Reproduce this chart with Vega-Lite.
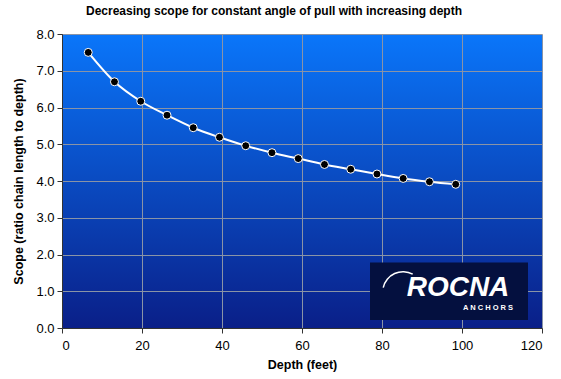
{
  "$schema": "https://vega.github.io/schema/vega-lite/v6.json",
  "width": 480,
  "height": 294,
  "autosize": {"type": "none"},
  "padding": {"left": 62, "top": 34, "right": 19, "bottom": 51},
  "background": "white",
  "title": {
    "text": "Decreasing scope for constant angle of pull with increasing depth",
    "font": "Liberation Sans",
    "fontSize": 12,
    "fontWeight": "bold",
    "color": "black",
    "anchor": "middle",
    "offset": 10,
    "dx": -28
  },
  "config": {
    "view": {
      "fill": {"gradient": "linear", "x1": 0, "y1": 0, "x2": 0, "y2": 1, "stops": [{"offset": 0, "color": "#0a76fa"}, {"offset": 1, "color": "#0a1f88"}]},
      "stroke": null
    },
    "axis": {
      "labelFont": "Liberation Sans",
      "labelFontSize": 13,
      "labelColor": "black",
      "titleFont": "Liberation Sans",
      "titleFontSize": 12.5,
      "titleFontWeight": "bold",
      "titleColor": "black",
      "gridColor": "#8a94a6",
      "gridWidth": 1,
      "gridOpacity": 1,
      "domainColor": "#333333",
      "tickColor": "#333333",
      "tickSize": 5
    }
  },
  "layer": [
    {
      "data": {
        "values": [
          {"depth": 6.56, "scope": 7.50},
          {"depth": 13.12, "scope": 6.70},
          {"depth": 19.69, "scope": 6.17},
          {"depth": 26.25, "scope": 5.79},
          {"depth": 32.81, "scope": 5.45},
          {"depth": 39.37, "scope": 5.19},
          {"depth": 45.93, "scope": 4.96},
          {"depth": 52.49, "scope": 4.77},
          {"depth": 59.06, "scope": 4.61},
          {"depth": 65.62, "scope": 4.45},
          {"depth": 72.18, "scope": 4.32},
          {"depth": 78.74, "scope": 4.19},
          {"depth": 85.30, "scope": 4.07},
          {"depth": 91.86, "scope": 3.98},
          {"depth": 98.43, "scope": 3.91}
        ]
      },
      "encoding": {
        "x": {
          "field": "depth",
          "type": "quantitative",
          "scale": {"domain": [0, 120], "nice": false},
          "axis": {"title": "Depth (feet)", "values": [0, 20, 40, 60, 80, 100, 120], "labelPadding": 6, "titlePadding": 6}
        },
        "y": {
          "field": "scope",
          "type": "quantitative",
          "scale": {"domain": [0, 8], "nice": false},
          "axis": {"title": "Scope (ratio chain length to depth)", "values": [0, 1, 2, 3, 4, 5, 6, 7, 8], "format": ".1f", "labelPadding": 3, "titlePadding": 10}
        }
      },
      "layer": [
        {"mark": {"type": "line", "color": "white", "strokeWidth": 2, "interpolate": "monotone"}},
        {"mark": {"type": "point", "filled": true, "fill": "black", "stroke": "white", "strokeWidth": 1, "size": 64, "opacity": 1}}
      ]
    },
    {
      "data": {"values": [{"label": "ROCNA", "sub": "A N C H O R S"}]},
      "layer": [
        {
          "mark": {"type": "rect", "fill": "#04103f", "opacity": 1},
          "encoding": {
            "x": {"datum": 77, "type": "quantitative", "axis": {"title": "Depth (feet)", "values": [0, 20, 40, 60, 80, 100, 120], "labelPadding": 6, "titlePadding": 6}},
            "x2": {"datum": 116.5},
            "y": {"datum": 1.78, "type": "quantitative", "axis": {"title": "Scope (ratio chain length to depth)", "values": [0, 1, 2, 3, 4, 5, 6, 7, 8], "format": ".1f", "labelPadding": 3, "titlePadding": 10}},
            "y2": {"datum": 0.22}
          }
        },
        {
          "mark": {"type": "arc", "theta": -1.35, "theta2": 0.5, "radius": 21, "radius2": 19.5, "fill": "white"},
          "encoding": {
            "x": {"datum": 85.25, "type": "quantitative", "axis": {"title": "Depth (feet)", "values": [0, 20, 40, 60, 80, 100, 120], "labelPadding": 6, "titlePadding": 6}},
            "y": {"datum": 0.98, "type": "quantitative", "axis": {"title": "Scope (ratio chain length to depth)", "values": [0, 1, 2, 3, 4, 5, 6, 7, 8], "format": ".1f", "labelPadding": 3, "titlePadding": 10}}
          }
        },
        {
          "mark": {"type": "text", "fill": "white", "font": "Liberation Sans", "fontSize": 28, "fontWeight": "bold", "fontStyle": "italic", "align": "center", "baseline": "middle"},
          "encoding": {
            "x": {"datum": 99, "type": "quantitative", "axis": {"title": "Depth (feet)", "values": [0, 20, 40, 60, 80, 100, 120], "labelPadding": 6, "titlePadding": 6}},
            "y": {"datum": 1.1, "type": "quantitative", "axis": {"title": "Scope (ratio chain length to depth)", "values": [0, 1, 2, 3, 4, 5, 6, 7, 8], "format": ".1f", "labelPadding": 3, "titlePadding": 10}},
            "text": {"field": "label"}
          }
        },
        {
          "mark": {"type": "text", "fill": "white", "font": "Liberation Sans", "fontSize": 7.5, "fontWeight": "bold", "align": "center", "baseline": "middle"},
          "encoding": {
            "x": {"datum": 106.5, "type": "quantitative", "axis": {"title": "Depth (feet)", "values": [0, 20, 40, 60, 80, 100, 120], "labelPadding": 6, "titlePadding": 6}},
            "y": {"datum": 0.55, "type": "quantitative", "axis": {"title": "Scope (ratio chain length to depth)", "values": [0, 1, 2, 3, 4, 5, 6, 7, 8], "format": ".1f", "labelPadding": 3, "titlePadding": 10}},
            "text": {"field": "sub"}
          }
        }
      ]
    }
  ]
}
